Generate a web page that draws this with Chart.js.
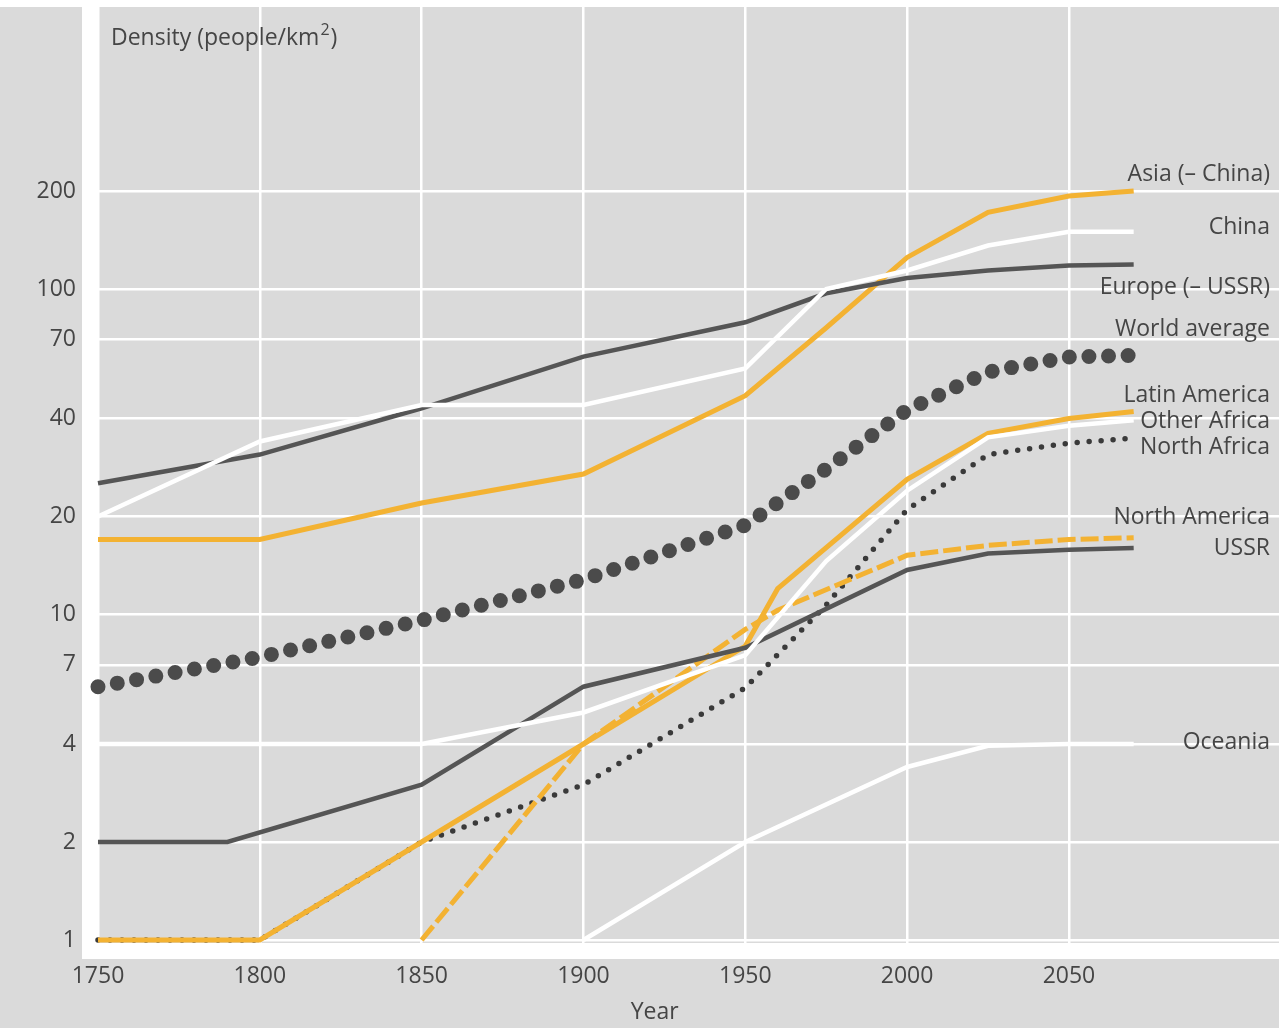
<!DOCTYPE html>
<html>
<head>
<meta charset="utf-8">
<script src="https://cdn.jsdelivr.net/npm/chart.js@4.4.1/dist/chart.umd.min.js"></script>
<style>
  html, body { margin: 0; padding: 0; background: #dadada; }
  #wrap { width: 1279px; height: 1028px; }
</style>
</head>
<body>
<div id="wrap"><canvas id="c" width="1279" height="1028"></canvas></div>
<script>
// Tick labels
const xTicks = [1750, 1800, 1850, 1900, 1950, 2000, 2050];
const yTicks = [1, 2, 4, 7, 10, 20, 40, 70, 100, 200];

// Population density (people per km²) by region
const asiaYears = [1750, 1800, 1850, 1900, 1950, 1975, 2000, 2025, 2050, 2070];
const asiaDensity = [17, 17, 22, 27, 47, 76, 125, 172, 193, 200];

const chinaYears = [1750, 1800, 1850, 1900, 1950, 1975, 2000, 2025, 2050, 2070];
const chinaDensity = [20, 34, 44, 44, 57, 100, 114, 136, 150, 150];

const europeYears = [1750, 1800, 1850, 1900, 1950, 1975, 2000, 2025, 2050, 2070];
const europeDensity = [25.3, 31, 43, 62, 79, 97, 108, 114, 118, 119];

const worldYears = [1750, 1800, 1850, 1900, 1950, 1975, 2000, 2025, 2050, 2070];
const worldDensity = [6.0, 7.4, 9.6, 12.8, 18.8, 28, 42.5, 55.6, 61.8, 62.5];

const latinYears = [1750, 1800, 1850, 1900, 1950, 1960, 2000, 2025, 2050, 2070];
const latinDensity = [1, 1, 2, 4, 8, 12, 26, 36, 40, 42];

const otherAfricaYears = [1750, 1800, 1850, 1900, 1950, 1975, 2000, 2025, 2050, 2070];
const otherAfricaDensity = [4, 4, 4, 5, 7.5, 14.6, 24, 35, 38, 39.5];

const northAfricaYears = [1750, 1800, 1850, 1900, 1950, 1975, 2000, 2025, 2050, 2070];
const northAfricaDensity = [1, 1, 2, 3, 5.95, 10.7, 21, 31, 33.6, 34.8];

const northAmericaYears = [1850, 1900, 1950, 1960, 2000, 2025, 2050, 2070];
const northAmericaDensity = [1, 4, 9, 10.3, 15.2, 16.3, 17, 17.2];

const ussrYears = [1750, 1790, 1850, 1900, 1950, 2000, 2025, 2050, 2070];
const ussrDensity = [2, 2, 3, 6, 7.9, 13.7, 15.4, 15.8, 16];

const oceaniaYears = [1900, 1950, 2000, 2025, 2050, 2070];
const oceaniaDensity = [1, 2, 3.4, 3.95, 4, 4];

// Region names and the density level each name is set against
const regionNames = ['Asia (\u2013 China)', 'China', 'Europe (\u2013 USSR)', 'World average',
  'Latin America', 'Other Africa', 'North Africa', 'North America', 'USSR', 'Oceania'];
const nameLevels = [225, 154, 101, 75, 47.2, 39.3, 32.7, 19.8, 16.0, 4.03];

const pts = (xs, ys) => xs.map((x, i) => ({ x: x, y: ys[i] }));

const ORANGE = '#f3b232';
const DARK = '#555555';
const WHITE = '#ffffff';
const FONT = "'Open Sans', 'DejaVu Sans', sans-serif";
const TEXT = '#454545';

const base = { pointRadius: 0, pointHoverRadius: 0, tension: 0, fill: false };

const datasets = [
  Object.assign({ label: 'Oceania', data: pts(oceaniaYears, oceaniaDensity), borderColor: WHITE, borderWidth: 4.5 }, base),
  Object.assign({ label: 'Other Africa', data: pts(otherAfricaYears, otherAfricaDensity), borderColor: WHITE, borderWidth: 4.5 }, base),
  Object.assign({ label: 'China', data: pts(chinaYears, chinaDensity), borderColor: WHITE, borderWidth: 4.5 }, base),
  Object.assign({ label: 'USSR', data: pts(ussrYears, ussrDensity), borderColor: DARK, borderWidth: 4.5 }, base),
  Object.assign({ label: 'Europe (\u2013 USSR)', data: pts(europeYears, europeDensity), borderColor: DARK, borderWidth: 4.5 }, base),
  Object.assign({ label: 'Latin America', data: pts(latinYears, latinDensity), borderColor: ORANGE, borderWidth: 5 }, base),
  Object.assign({ label: 'North America', data: pts(northAmericaYears, northAmericaDensity), borderColor: ORANGE, borderWidth: 5, borderDash: [18, 5] }, base),
  Object.assign({ label: 'Asia (\u2013 China)', data: pts(asiaYears, asiaDensity), borderColor: ORANGE, borderWidth: 5 }, base),
  Object.assign({ label: 'North Africa', data: pts(northAfricaYears, northAfricaDensity), borderColor: '#3a3a3a', borderWidth: 5.5, borderDash: [0, 12], borderCapStyle: 'round' }, base),
  Object.assign({ label: 'World average', data: pts(worldYears, worldDensity), borderColor: '#4b4b4b', borderWidth: 15, borderDash: [0, 19.6], borderCapStyle: 'round' }, base)
];

// Page background, region names and axis titles
const decor = {
  id: 'decor',
  beforeDraw(chart) {
    const { ctx, width, height } = chart;
    ctx.save();
    ctx.fillStyle = '#dadada';
    ctx.fillRect(0, 0, width, height);
    ctx.fillStyle = '#ffffff';
    ctx.fillRect(0, 0, width, 7);
    ctx.restore();
  },
  afterDraw(chart) {
    const { ctx, chartArea } = chart;
    const ys = chart.scales.y;
    const xs = chart.scales.x;
    ctx.save();
    ctx.fillStyle = TEXT;
    ctx.font = '23px ' + FONT;
    ctx.textAlign = 'right';
    ctx.textBaseline = 'middle';
    regionNames.forEach((name, i) => {
      ctx.fillText(name, chartArea.right - 9, ys.getPixelForValue(nameLevels[i]));
    });

    // y axis title with superscript
    ctx.textAlign = 'left';
    const tx = 111, ty = 38;
    const head = 'Density (people/km';
    ctx.fillText(head, tx, ty);
    let w = ctx.measureText(head).width;
    ctx.font = '16px ' + FONT;
    ctx.fillText('2', tx + w + 1, ty - 8);
    const w2 = ctx.measureText('2').width;
    ctx.font = '23px ' + FONT;
    ctx.fillText(')', tx + w + w2 + 2, ty);

    // x axis title
    ctx.textAlign = 'center';
    ctx.fillText('Year', xs.getPixelForValue(1922), 1012);
    ctx.restore();
  }
};

Chart.defaults.font.family = FONT;

new Chart(document.getElementById('c'), {
  type: 'line',
  data: { datasets: datasets },
  plugins: [decor],
  options: {
    responsive: false,
    animation: false,
    events: [],
    layout: { padding: { top: 7, left: 0, right: 0, bottom: 0 }, autoPadding: false },
    plugins: { legend: { display: false }, tooltip: { enabled: false }, title: { display: false } },
    scales: {
      x: {
        type: 'linear',
        min: 1747.53,
        max: 2114.9,
        bounds: 'data',
        afterBuildTicks(s) { s.ticks = xTicks.map(v => ({ value: v })); },
        afterFit(s) { s.height = 77; s.paddingLeft = 0; s.paddingRight = 0; },
        grid: { color: WHITE, lineWidth: 2.5, drawTicks: false },
        border: { display: true, color: WHITE, width: 16 },
        ticks: {
          padding: 12,
          maxRotation: 0,
          autoSkip: false,
          color: TEXT,
          font: { size: 23 },
          callback: (v) => String(v)
        }
      },
      y: {
        type: 'logarithmic',
        min: 0.925,
        max: 735,
        bounds: 'data',
        afterBuildTicks(s) { s.ticks = yTicks.map(v => ({ value: v })); },
        afterFit(s) { s.width = 90; s.paddingTop = 0; s.paddingBottom = 0; },
        grid: { color: WHITE, lineWidth: 2.5, drawTicks: false },
        border: { display: true, color: WHITE, width: 16 },
        ticks: {
          padding: 14,
          autoSkip: false,
          color: TEXT,
          font: { size: 23 },
          callback: (v) => String(v)
        }
      }
    }
  }
});
</script>
</body>
</html>
